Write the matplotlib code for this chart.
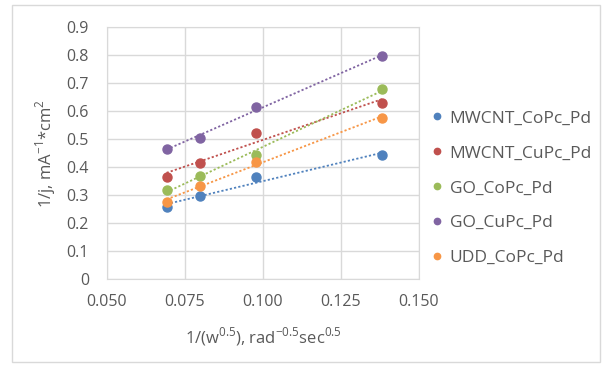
import matplotlib.pyplot as plt
import numpy as np

plt.rcParams['font.family'] = ['Open Sans', 'DejaVu Sans']

# 1/sqrt(w) for the four rotation speeds
x_vals = [0.0691, 0.0798, 0.0977, 0.1382]

series_names = ['MWCNT_CoPc_Pd', 'MWCNT_CuPc_Pd', 'GO_CoPc_Pd', 'GO_CuPc_Pd', 'UDD_CoPc_Pd']
mwcnt_copc = [0.256, 0.296, 0.363, 0.443]
mwcnt_cupc = [0.365, 0.415, 0.520, 0.630]
go_copc = [0.318, 0.369, 0.443, 0.679]
go_cupc = [0.463, 0.505, 0.615, 0.796]
udd_copc = [0.276, 0.332, 0.419, 0.576]

colors = ['#4F81BD', '#C0504D', '#9BBB59', '#8064A2', '#F79646']
text_color = '#595959'
grid_color = '#D9D9D9'

fig = plt.figure(figsize=(6.06, 3.65), dpi=100)
ax = fig.add_axes([0.1766, 0.2356, 0.5148, 0.6904])

# light outer chart border
fig.patches.append(plt.Rectangle((12 / 606, 3 / 365), 588 / 606, 357 / 365,
                                 transform=fig.transFigure, fill=False,
                                 edgecolor=grid_color, linewidth=1))

all_series = [mwcnt_copc, mwcnt_cupc, go_copc, go_cupc, udd_copc]
x = np.array(x_vals)
for name, ys, c in zip(series_names, all_series, colors):
    ax.plot(x, ys, 'o', color=c, markersize=6.5, label=name, zorder=3)
    # linear trendline over the measured range
    k, b = np.polyfit(x, ys, 1)
    xx = np.array([x.min(), x.max()])
    ax.plot(xx, k * xx + b, linestyle=(0, (1.2, 1.2)), color=c, linewidth=1.3, zorder=2)

ax.set_xlim(0.05, 0.15)
ax.set_ylim(0, 0.9)
ax.set_xticks(np.arange(0.05, 0.1501, 0.025))
ax.set_xticklabels(['%.3f' % v for v in np.arange(0.05, 0.1501, 0.025)])
ax.set_yticks(np.arange(0, 0.901, 0.1))
ax.set_yticklabels(['0'] + ['%.1f' % v for v in np.arange(0.1, 0.901, 0.1)])
ax.tick_params(length=0, labelsize=11.5, labelcolor=text_color)
ax.tick_params(axis='x', pad=11)
ax.tick_params(axis='y', pad=13)
ax.grid(True, color=grid_color, linewidth=1)
ax.set_axisbelow(True)
for s in ax.spines.values():
    s.set_color(grid_color)

ax.set_xlabel(r'1/(w$^{\mathregular{0.5}}$), rad$^{\mathregular{-0.5}}$sec$^{\mathregular{0.5}}$',
              color=text_color, fontsize=12, labelpad=11)
ax.set_ylabel(r'1/j, mA$^{\mathregular{-1}}$*cm$^{\mathregular{2}}$', color=text_color,
              fontsize=12, labelpad=6)

leg = ax.legend(loc='center left', bbox_to_anchor=(0.995, 0.36), frameon=False,
                fontsize=12.5, handlelength=0.5, handletextpad=0.45, labelspacing=1.08,
                markerscale=0.7)
for t in leg.get_texts():
    t.set_color(text_color)

fig.savefig('out.png', dpi=100)
